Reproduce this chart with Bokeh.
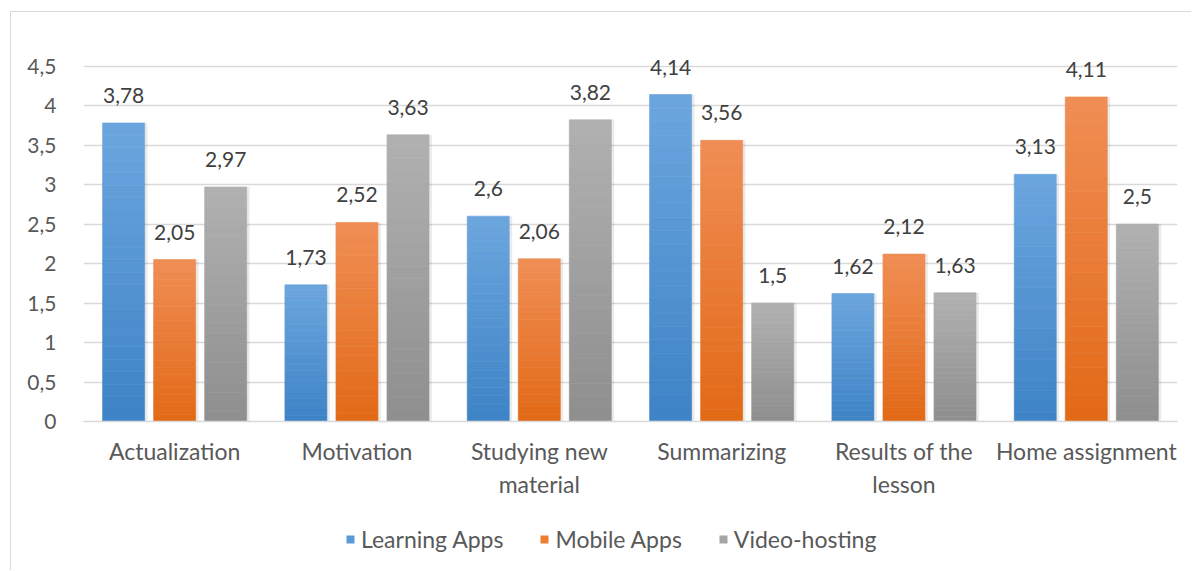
from bokeh.plotting import figure
from bokeh.layouts import column
from bokeh.models import (ColumnDataSource, FactorRange, FixedTicker, CustomJSTickFormatter,
                          Legend, LegendItem, LabelSet, Range1d)
from bokeh.transform import dodge
from bokeh.core.properties import value
from bokeh.embed import file_html
from bokeh.resources import INLINE

categories = ["Actualization", "Motivation", "Studying new\nmaterial", "Summarizing",
              "Results of the\nlesson", "Home assignment"]
series_names = ["Learning Apps", "Mobile Apps", "Video-hosting"]
learning_apps = [3.78, 1.73, 2.6, 4.14, 1.62, 3.13]
mobile_apps = [2.05, 2.52, 2.06, 3.56, 2.12, 4.11]
video_hosting = [2.97, 3.63, 3.82, 1.5, 1.63, 2.5]
y_ticks = [0, 0.5, 1, 1.5, 2, 2.5, 3, 3.5, 4, 4.5]

series_values = [learning_apps, mobile_apps, video_hosting]
# (bottom colour, top colour) of each series' gradient
grad = [((0x3D, 0x83, 0xC6), (0x6C, 0xA6, 0xDE)),
        ((0xE2, 0x69, 0x16), (0xF0, 0x8E, 0x55)),
        ((0x8E, 0x8E, 0x8E), (0xB1, 0xB1, 0xB1))]
legend_colors = ["#5B9BD5", "#ED7D31", "#A5A5A5"]
offsets = [-0.28, 0.0, 0.28]
BAR_W = 0.23
N = 24

FONT = "Lato"
p = figure(x_range=FactorRange(*categories, range_padding=0), y_range=(0, 4.9),
           width=1180, height=502, output_backend="svg", toolbar_location=None,
           min_border_left=72, min_border_right=14, min_border_top=22, min_border_bottom=93)
p.outline_line_color = None
p.background_fill_color = "white"

p.xgrid.grid_line_color = None
p.ygrid.grid_line_color = "#d9d9d9"
p.ygrid.grid_line_width = 1.3
p.yaxis.ticker = FixedTicker(ticks=y_ticks)
p.yaxis.formatter = CustomJSTickFormatter(code="return tick.toString().replace('.', ',');")
p.yaxis.axis_line_color = None
p.yaxis.major_tick_line_color = None
p.yaxis.minor_tick_line_color = None
p.yaxis.major_label_standoff = 21
p.yaxis.major_label_text_font = FONT
p.yaxis.major_label_text_font_size = "21px"
p.yaxis.major_label_text_color = "#595959"

p.xaxis.axis_line_color = "#d9d9d9"
p.xaxis.axis_line_width = 1.5
p.xaxis.major_tick_line_color = None
p.xaxis.minor_tick_line_color = None
p.xaxis.major_label_standoff = 9
p.xaxis.major_label_text_font = FONT
p.xaxis.major_label_text_font_size = "23px"
p.xaxis.major_label_text_color = "#595959"

for s, vals in enumerate(series_values):
    # soft shadow
    sh = ColumnDataSource(dict(x=categories, top=vals))
    p.vbar(x=dodge("x", offsets[s] + 0.006, range=p.x_range), top="top", bottom=-0.015,
           width=BAR_W + 0.02, source=sh, fill_color="#000000", fill_alpha=0.08, line_color=None)
    xs, bots, tops, cols = [], [], [], []
    (b0, b1) = grad[s]
    for c, v in zip(categories, vals):
        for k in range(N):
            t = (k + 0.5) / N
            col = "#%02x%02x%02x" % tuple(int(round(b0[i] + (b1[i] - b0[i]) * t)) for i in range(3))
            xs.append(c)
            bots.append(v * k / N)
            tops.append(v * (k + 1) / N)
            cols.append(col)
    src = ColumnDataSource(dict(x=xs, bottom=bots, top=tops, color=cols))
    p.vbar(x=dodge("x", offsets[s], range=p.x_range), bottom="bottom", top="top", width=BAR_W,
           source=src, fill_color="color", line_color="color", line_width=0.6)

    lab_src = ColumnDataSource(dict(x=categories, y=vals,
                                    txt=[("%g" % v).replace(".", ",") for v in vals]))
    labels = LabelSet(x=dodge("x", offsets[s], range=p.x_range), y="y", text="txt", source=lab_src,
                      text_align="center", text_baseline="bottom", y_offset=20,
                      text_font=value(FONT), text_font_size="21px", text_color="#404040")
    p.add_layout(labels)

# legend strip under the chart
lf = figure(width=1180, height=56, output_backend="svg", toolbar_location=None,
            x_range=Range1d(0, 1), y_range=Range1d(0, 1), x_axis_type=None, y_axis_type=None,
            min_border=0)
lf.outline_line_color = None
leg_renderers = []
for s in range(3):
    r = lf.vbar(x=[5], top=[6], bottom=[5], width=0.1, fill_color=legend_colors[s], line_color=None)
    leg_renderers.append(r)
legend = Legend(items=[LegendItem(label=n, renderers=[r]) for n, r in zip(series_names, leg_renderers)],
                orientation="horizontal", location=(262, 17), padding=0, margin=0, spacing=36,
                glyph_width=10, glyph_height=10, label_standoff=6, label_height=20,
                label_text_font=FONT, label_text_font_size="23px", label_text_color="#595959",
                background_fill_alpha=0, border_line_color=None)
lf.add_layout(legend, "center")

layout = column(p, lf, spacing=0)
layout.margin = (11, 0, 0, 10)
layout.styles = {"border-left": "1px solid #d9d9d9", "border-top": "1px solid #d9d9d9"}

open("out.html", "w").write(file_html(layout, INLINE))
